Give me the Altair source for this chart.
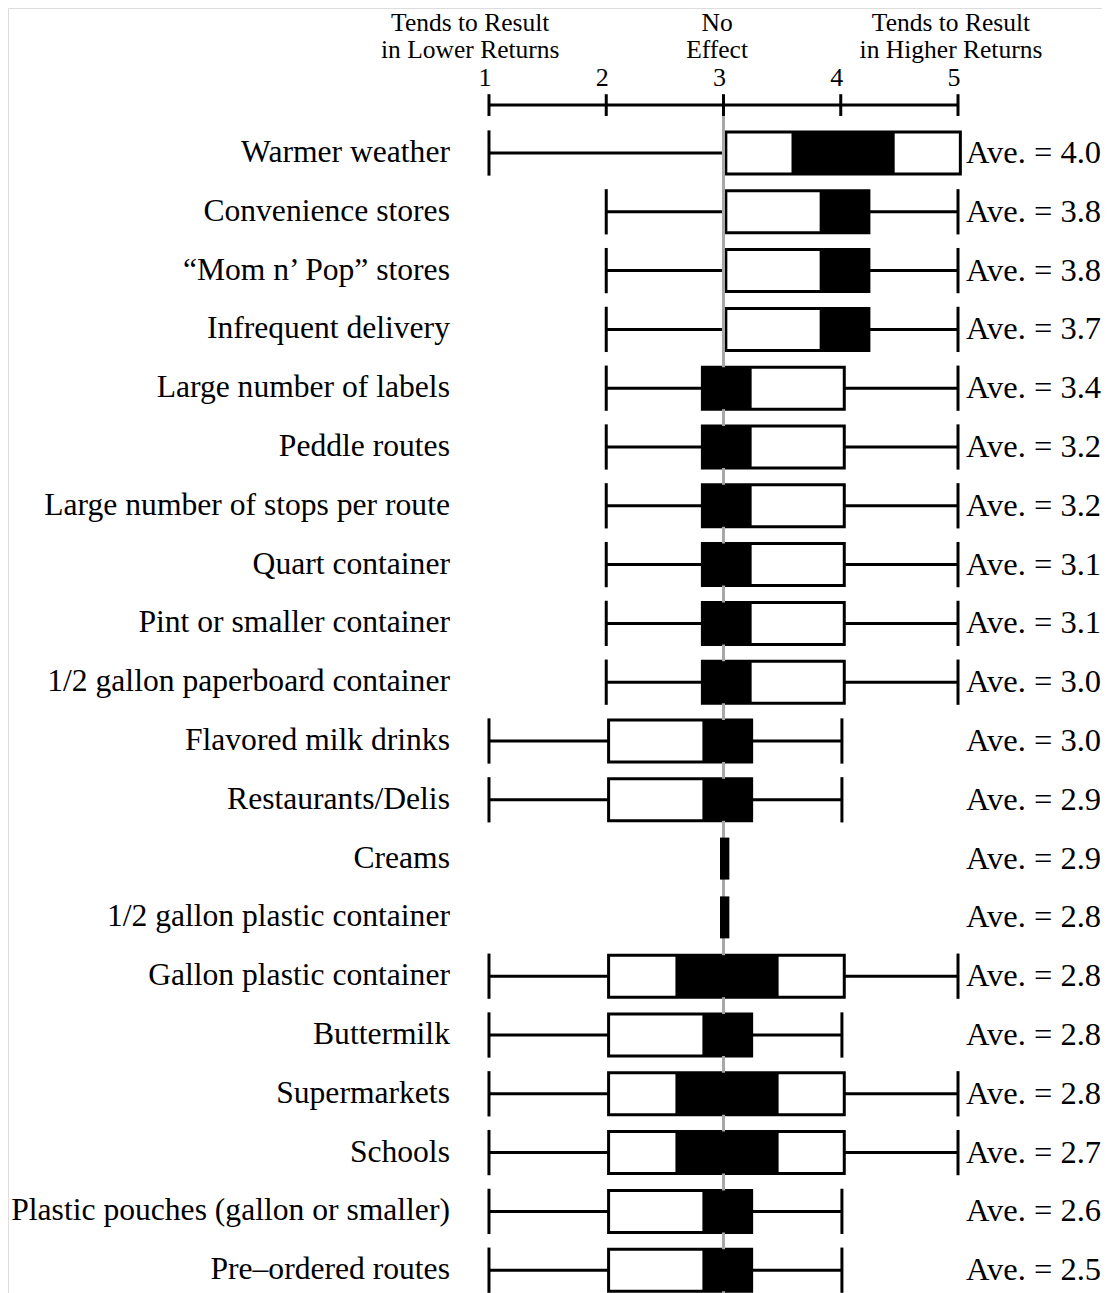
import altair as alt
import pandas as pd
import numpy as np

# ---------------- data ----------------
categories = [
    "Warmer weather", "Convenience stores", "\u201cMom n\u2019 Pop\u201d stores",
    "Infrequent delivery", "Large number of labels", "Peddle routes",
    "Large number of stops per route", "Quart container", "Pint or smaller container",
    "1/2 gallon paperboard container", "Flavored milk drinks", "Restaurants/Delis",
    "Creams", "1/2 gallon plastic container", "Gallon plastic container",
    "Buttermilk", "Supermarkets", "Schools",
    "Plastic pouches (gallon or smaller)", "Pre\u2013ordered routes",
]
N = np.nan
whisker_min = [1.0, 2.0, 2.0, 2.0, 2.0, 2.0, 2.0, 2.0, 2.0, 2.0,
               1.0, 1.0, N, N, 1.0, 1.0, 1.0, 1.0, 1.0, 1.0]
box_low = [3.02, 3.02, 3.02, 3.02, 2.82, 2.82, 2.82, 2.82, 2.82, 2.82,
           2.02, 2.02, N, N, 2.02, 2.02, 2.02, 2.02, 2.02, 2.02]
dark_low = [3.58, 3.82, 3.82, 3.82, 2.82, 2.82, 2.82, 2.82, 2.82, 2.82,
            2.82, 2.82, 2.97, 2.97, 2.59, 2.82, 2.59, 2.59, 2.82, 2.82]
dark_high = [4.46, 4.24, 4.24, 4.24, 3.24, 3.24, 3.24, 3.24, 3.24, 3.24,
             3.24, 3.24, 3.05, 3.05, 3.47, 3.24, 3.47, 3.47, 3.24, 3.24]
box_high = [5.02, 4.24, 4.24, 4.24, 4.03, 4.03, 4.03, 4.03, 4.03, 4.03,
            3.24, 3.24, N, N, 4.03, 3.24, 4.03, 4.03, 3.24, 3.24]
whisker_max = [5.02, 5.0, 5.0, 5.0, 5.0, 5.0, 5.0, 5.0, 5.0, 5.0,
               4.01, 4.01, N, N, 5.0, 4.01, 5.0, 5.0, 4.01, 4.01]
averages = ["4.0", "3.8", "3.8", "3.7", "3.4", "3.2", "3.2", "3.1", "3.1", "3.0",
            "3.0", "2.9", "2.9", "2.8", "2.8", "2.8", "2.8", "2.7", "2.6", "2.5"]

scale_ticks = [1, 2, 3, 4, 5]
no_effect = [3]
header_text = ["Tends to Result", "in Lower Returns", "No", "Effect",
               "Tends to Result", "in Higher Returns"]
header_x = [0.84, 0.84, 2.945, 2.945, 4.94, 4.94]
header_line = [0, 1, 0, 1, 0, 1]

# ---------------- layout constants ----------------
W, H = 1094, 1285
X_DOMAIN = [-3.102, 6.228]
Y_DOMAIN = [-2.466, 19.388]
BOX_HALF = 0.357
TICK_HALF = 0.385
FONT = "Liberation Serif"

df = pd.DataFrame({
    "cat": categories,
    "row": list(range(len(categories))),
    "wmin": whisker_min, "q1": box_low, "b1": dark_low, "b2": dark_high,
    "q3": box_high, "wmax": whisker_max,
    "ave": ["Ave. = " + a for a in averages],
})

xs = alt.Scale(domain=X_DOMAIN, nice=False, zero=False)
ys = alt.Scale(domain=Y_DOMAIN, nice=False, zero=False, reverse=True)


def X(f):
    return alt.X(f, type="quantitative", scale=xs, axis=None)


def Y(f):
    return alt.Y(f, type="quantitative", scale=ys, axis=None)


base = alt.Chart(df).transform_calculate(
    by1=f"datum.row - {BOX_HALF}", by2=f"datum.row + {BOX_HALF}",
    ty1=f"datum.row - {TICK_HALF}", ty2=f"datum.row + {TICK_HALF}",
)

whisker = base.mark_rule(color="black", strokeWidth=3).encode(
    x=X("wmin"), x2="wmax", y=Y("row"))
min_tick = base.mark_rule(color="black", strokeWidth=3).encode(
    x=X("wmin"), y=Y("ty1"), y2="ty2")
max_tick = base.transform_filter("datum.wmax > datum.q3").mark_rule(
    color="black", strokeWidth=3).encode(x=X("wmax"), y=Y("ty1"), y2="ty2")
box = base.mark_rect(fill="white", stroke="black", strokeWidth=3).encode(
    x=X("q1"), x2="q3", y=Y("by1"), y2="by2")
dark = base.mark_rect(fill="black").encode(
    x=X("b1"), x2="b2", y=Y("by1"), y2="by2")

cat_labels = base.transform_calculate(lx="0.667").mark_text(
    align="right", baseline="middle", font=FONT, fontSize=31.6, color="black"
).encode(x=X("lx"), y=Y("row"), text="cat:N")
ave_labels = base.transform_calculate(lx="5.068").mark_text(
    align="left", baseline="middle", font=FONT, fontSize=32.5, color="black"
).encode(x=X("lx"), y=Y("row"), text="ave:N")

# reference line at "No Effect"
ref = alt.Chart(pd.DataFrame({"x": no_effect})).transform_calculate(
    y1="-0.95", y2=f"{Y_DOMAIN[1]}"
).mark_rule(color="#a8a8a8", strokeWidth=3).encode(x=X("x"), y=Y("y1"), y2="y2")

# top scale
tick_df = pd.DataFrame({"v": scale_ticks})
axis_line = alt.Chart(tick_df).transform_aggregate(
    lo="min(v)", hi="max(v)").transform_calculate(ay="-0.816").mark_rule(
    color="black", strokeWidth=3).encode(x=X("lo"), x2="hi", y=Y("ay"))
axis_ticks = alt.Chart(tick_df).transform_calculate(
    t1="-1.0", t2="-0.63").mark_rule(color="black", strokeWidth=3).encode(
    x=X("v"), y=Y("t1"), y2="t2")
axis_labels = alt.Chart(tick_df).transform_calculate(
    ly="-1.139", lbl="format(datum.v, 'd')").mark_text(
    align="center", baseline="alphabetic", font=FONT, fontSize=26, color="black",
    dx=-4,
).encode(x=X("v"), y=Y("ly"), text="lbl:N")

hdr_df = pd.DataFrame({"t": header_text, "x": header_x, "line": header_line})
headers = alt.Chart(hdr_df).transform_calculate(
    hy="-2.083 + datum.line * 0.468").mark_text(
    align="center", baseline="alphabetic", font=FONT, fontSize=25.5, color="black"
).encode(x=X("x"), y=Y("hy"), text="t:N")

chart = alt.layer(
    whisker, min_tick, max_tick, box, ref, dark,
    axis_line, axis_ticks, axis_labels, headers, cat_labels, ave_labels,
).properties(
    width=W, height=H, padding=0,
    autosize=alt.AutoSizeParams(type="none"),
).configure_view(strokeWidth=0, stroke="transparent").configure(background="white")

chart.save("out.html", embed_options={"renderer": "svg", "actions": False})
